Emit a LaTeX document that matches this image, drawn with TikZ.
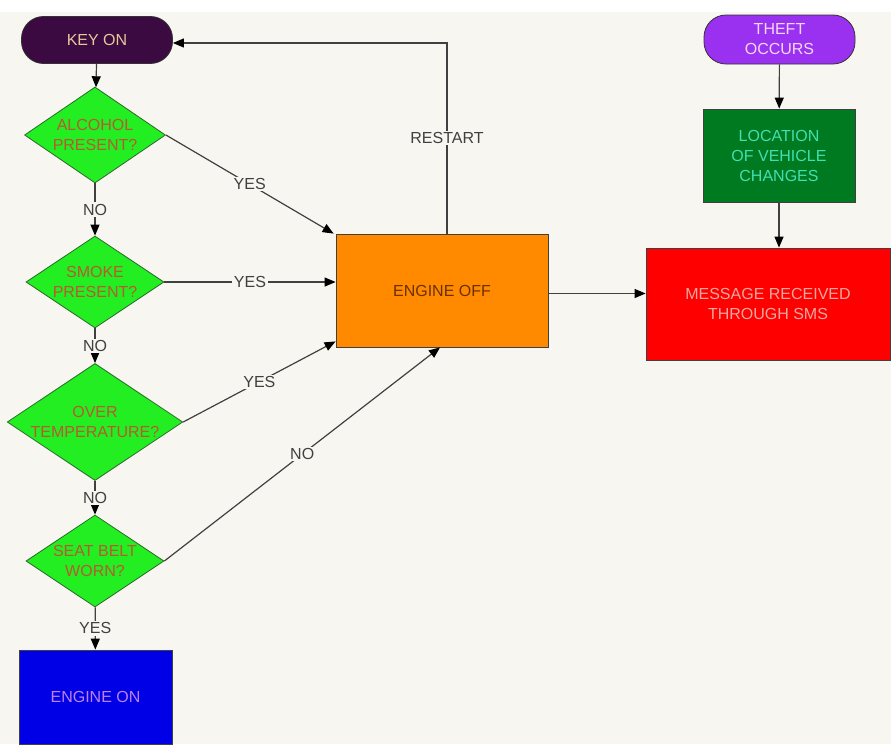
\documentclass[tikz,border=0pt]{standalone}
\usepackage{fontspec}
\setmainfont{Liberation Sans}
\usepackage{tikz}
\usetikzlibrary{arrows, arrows.meta, shapes, calc}
\definecolor{paper}{HTML}{F8F6F0}
\definecolor{wire}{HTML}{404040}
\definecolor{keyfill}{HTML}{3A0A40}
\definecolor{keytext}{HTML}{E8C79A}
\definecolor{askfill}{HTML}{22EE22}
\definecolor{askline}{HTML}{2A6A2A}
\definecolor{asktext}{HTML}{B85A30}
\definecolor{onfill}{HTML}{0000E6}
\definecolor{ontext}{HTML}{C080E8}
\definecolor{offfill}{HTML}{FF8A00}
\definecolor{offtext}{HTML}{6A3000}
\definecolor{theftfill}{HTML}{9A30F0}
\definecolor{thefttext}{HTML}{F4D8F4}
\definecolor{locfill}{HTML}{007A20}
\definecolor{loctext}{HTML}{40E0B0}
\definecolor{smsfill}{HTML}{FF0000}
\definecolor{smstext}{HTML}{F0A8A0}

\begin{document}
\begin{tikzpicture}[x=1pt, y=-1pt,
  every node/.style={font=\fontsize{16}{20}\selectfont, align=center},
  pill/.style={rectangle, rounded corners=22pt, draw=black!80, line width=0.8pt},
  ask/.style={diamond, aspect=1.5, inner sep=0pt, fill=askfill, draw=askline, line width=0.8pt, text=asktext},
  box/.style={rectangle, draw=black!75, line width=0.8pt},
  lbl/.style={fill=paper, inner sep=1.5pt, text=wire},
  flow/.style={draw=wire, line width=1.2pt, -{Triangle[length=11pt,width=9pt,color=black]}}]
  \fill[white] (0,0) rectangle (891,12);
  \fill[paper] (0,12) rectangle (891,744);
  \useasboundingbox (0,0) rectangle (891,744);

  \node[pill, fill=keyfill, text=keytext, minimum width=151pt, minimum height=47pt] (keyon) at (97,40) {KEY ON};
  \node[ask, minimum width=141pt, minimum height=96pt] (alcohol) at (95,135) {ALCOHOL\\PRESENT?};
  \node[ask, minimum width=138pt, minimum height=92pt] (smoke) at (95,282) {SMOKE\\PRESENT?};
  \node[ask, minimum width=175pt, minimum height=113pt] (temp) at (95,422) {OVER\\TEMPERATURE?};
  \node[ask, minimum width=138pt, minimum height=92pt] (belt) at (95,561) {SEAT BELT\\WORN?};
  \node[box, fill=onfill, text=ontext, minimum width=153pt, minimum height=94pt] (engon) at (95.5,697) {ENGINE ON};
  \node[box, fill=offfill, text=offtext, minimum width=212pt, minimum height=113pt] (engoff) at (442,290.5) {ENGINE OFF};
  \node[pill, fill=theftfill, text=thefttext, minimum width=151pt, minimum height=49pt] (theft) at (779.5,39.5) {THEFT\\OCCURS};
  \node[box, fill=locfill, text=loctext, minimum width=152pt, minimum height=93pt] (loc) at (779,155.5) {LOCATION\\OF VEHICLE\\CHANGES};
  \node[box, fill=smsfill, text=smstext, minimum width=244pt, minimum height=112pt] (sms) at (768,304) {MESSAGE RECEIVED\\THROUGH SMS};

  \draw[flow] (keyon) -- (alcohol);
  \draw[flow] (alcohol) -- node[lbl] {NO} (smoke);
  \draw[flow] (smoke) -- node[lbl] {NO} (temp);
  \draw[flow] (temp) -- node[lbl] {NO} (belt);
  \draw[flow] (belt) -- node[lbl] {YES} (engon);
  \draw[flow] (alcohol.east) -- node[lbl] {YES} ([xshift=-2pt]engoff.north west);
  \draw[flow] (smoke.east) -- node[lbl] {YES} (engoff.west |- smoke.east);
  \draw[flow] (temp.east) -- node[lbl] {YES} ([yshift=6pt]engoff.south west);
  \draw[flow] (belt.east) -- node[lbl] {NO} ([xshift=-2pt]engoff.south);
  \draw[flow] ([xshift=5pt]engoff.north) |- node[lbl, pos=0.25] {RESTART} ([yshift=-3pt]keyon.east);
  \draw[flow] ([yshift=-3pt]engoff.east) -- ([yshift=-3pt]engoff.east -| sms.west);
  \draw[flow] (theft) -- (loc);
  \draw[flow] (loc) -- (loc |- sms.north);
\end{tikzpicture}
\end{document}
